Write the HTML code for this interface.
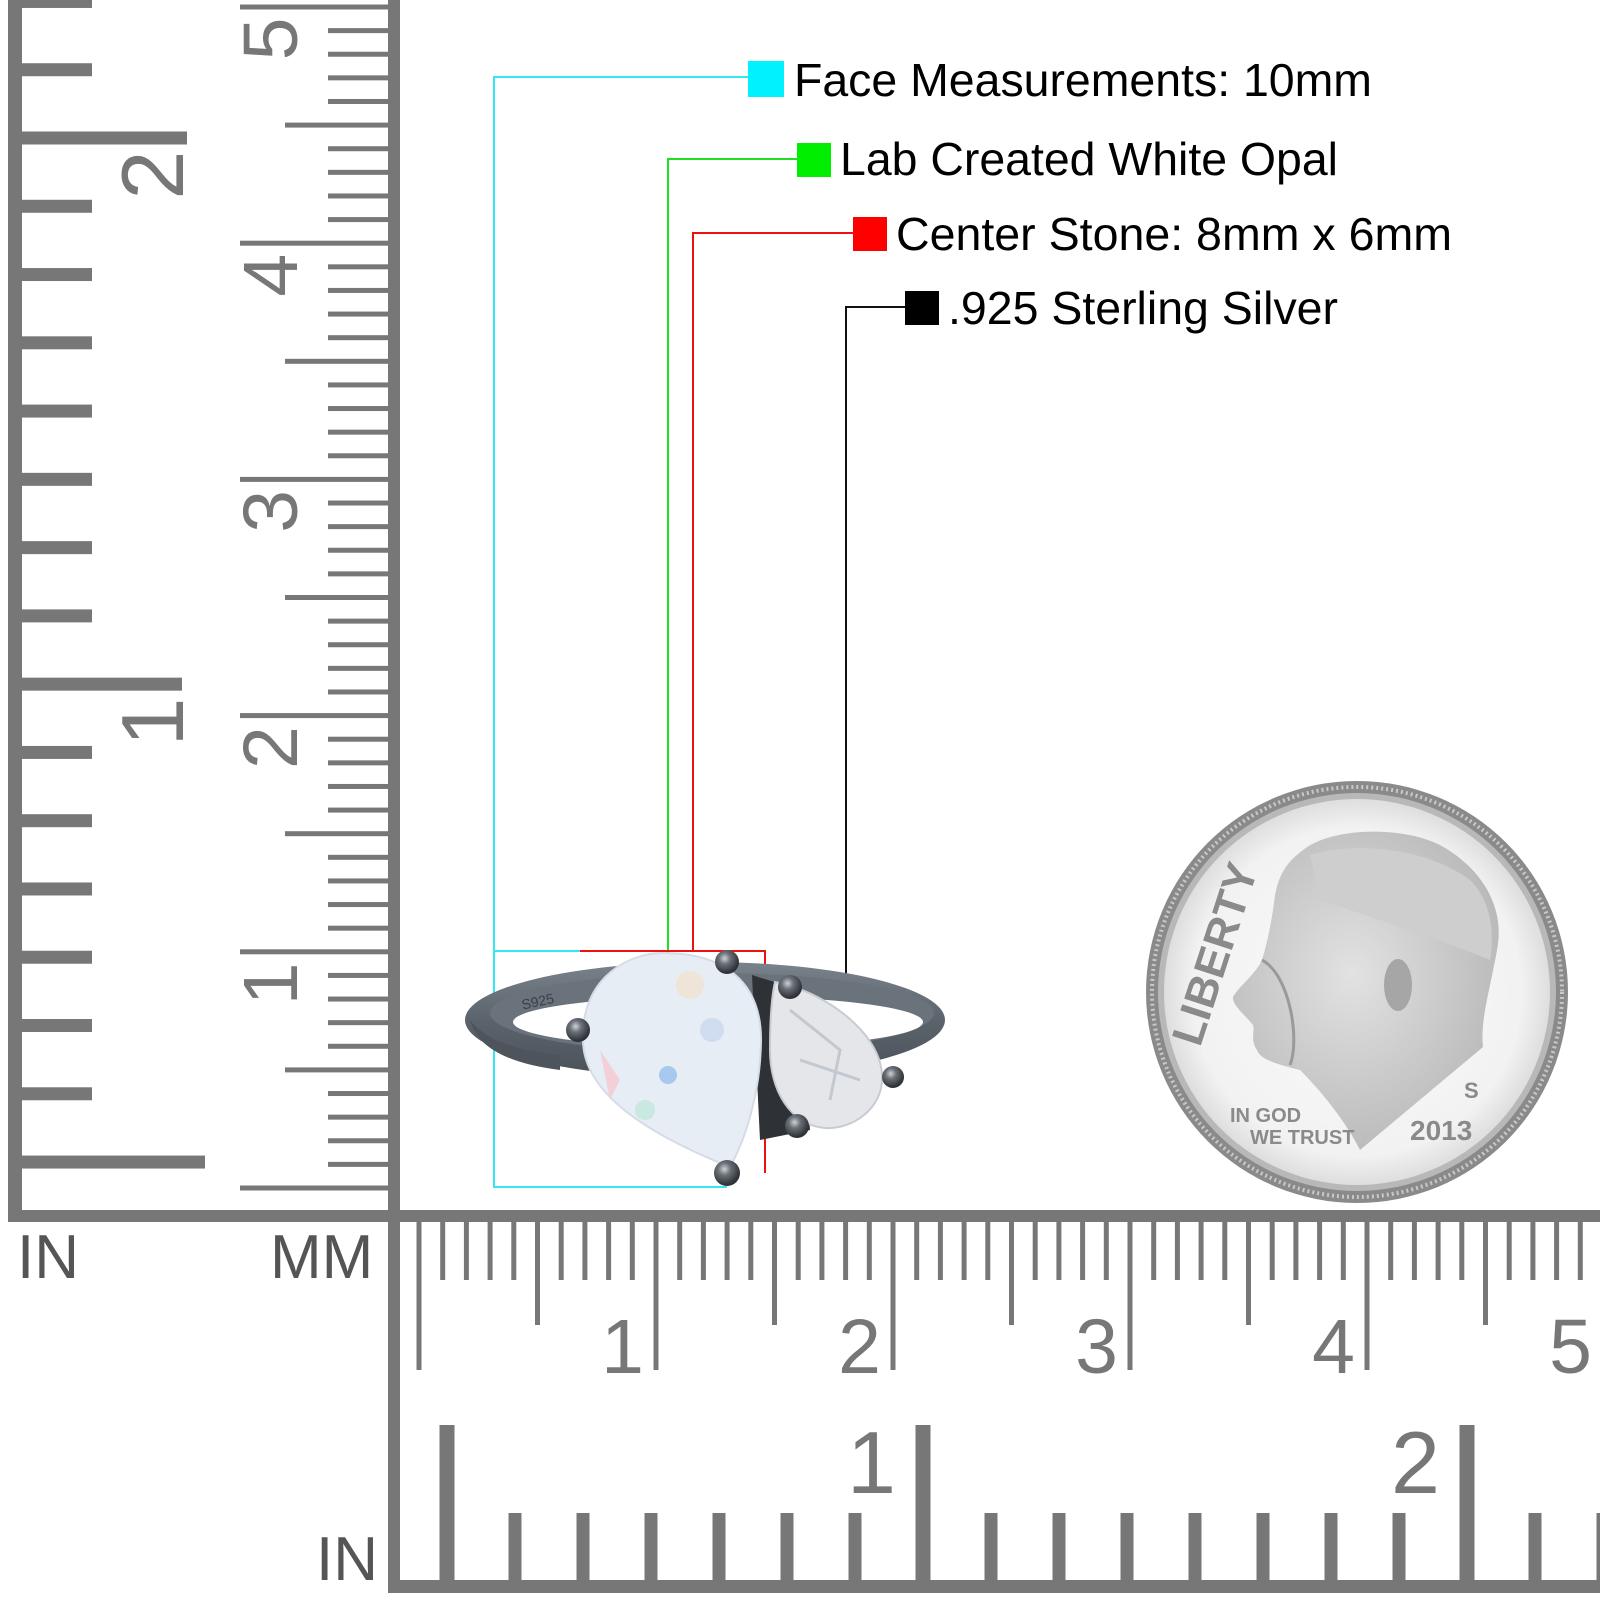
<!DOCTYPE html>
<html><head><meta charset="utf-8"><style>
html,body{margin:0;padding:0;background:#fff;}
svg{display:block;}
.t{font-family:"Liberation Sans",Arial,sans-serif;}
</style></head><body>
<svg id="s" width="1600" height="1600" viewBox="0 0 1600 1600" xmlns="http://www.w3.org/2000/svg">
<defs>
<radialGradient id="coin" cx="0.5" cy="0.5" r="0.5">
<stop offset="0" stop-color="#fafafa"/><stop offset="0.85" stop-color="#f2f2f2"/><stop offset="1" stop-color="#dedede"/>
</radialGradient>
<linearGradient id="band" x1="0" y1="0" x2="0" y2="1">
<stop offset="0" stop-color="#7a828b"/><stop offset="0.5" stop-color="#5b636c"/><stop offset="1" stop-color="#4a5159"/>
</linearGradient>
<radialGradient id="prong" cx="0.4" cy="0.35" r="0.6">
<stop offset="0" stop-color="#cfd3d8"/><stop offset="0.4" stop-color="#6b7178"/><stop offset="1" stop-color="#2f3338"/>
</radialGradient>
<radialGradient id="head" cx="0.45" cy="0.45" r="0.6">
<stop offset="0" stop-color="#e2e2e2"/><stop offset="1" stop-color="#b8b8b8"/>
</radialGradient>
</defs>
<g id="rul" fill="#777"></g>

<g fill="#777">
<rect x="8" y="0" width="14" height="1222"/>
<rect x="388" y="0" width="12" height="1593"/>
<rect x="8" y="1210" width="1592" height="12"/>
<rect x="388" y="1580" width="1212" height="13"/>
</g>

<g class="t" fill="#555" font-size="62">
<text x="17" y="1278">IN</text>
<text x="270" y="1278">MM</text>
<text x="316" y="1580">IN</text>
</g>
<g class="t" fill="#777" font-size="88">
<text transform="translate(183,175) rotate(-90)" text-anchor="middle">2</text>
<text transform="translate(183,722) rotate(-90)" text-anchor="middle">1</text>
<text x="896" y="1493" text-anchor="end">1</text>
<text x="1440" y="1493" text-anchor="end">2</text>
</g>
<g class="t" fill="#777" font-size="77" id="mmlab"></g>

<g fill="none" stroke-width="2">
<polyline points="748,77 494,77 494,1187 727,1187" stroke="#33e8ee"/>
<line x1="494" y1="951" x2="580" y2="951" stroke="#33e8ee"/>
<polyline points="797,159 668,159 668,987" stroke="#22dd22"/>
<polyline points="853,233 693,233 693,951" stroke="#ee1111"/>
<polyline points="580,951 765,951 765,1173" stroke="#ee1111"/>
<polyline points="905,307 846,307 846,990" stroke="#111"/>
</g>
<rect x="748" y="61" width="36" height="36" fill="#00f2ff"/>
<rect x="797" y="143" width="34" height="34" fill="#00ee00"/>
<rect x="853" y="217" width="34" height="34" fill="#ff0000"/>
<rect x="905" y="291" width="34" height="34" fill="#000"/>
<g class="t" fill="#000" font-size="46">
<text x="794" y="96" textLength="578" lengthAdjust="spacingAndGlyphs">Face Measurements: 10mm</text>
<text x="840" y="175" textLength="498" lengthAdjust="spacingAndGlyphs">Lab Created White Opal</text>
<text x="896" y="250" textLength="556" lengthAdjust="spacingAndGlyphs">Center Stone: 8mm x 6mm</text>
<text x="948" y="324" textLength="390" lengthAdjust="spacingAndGlyphs">.925 Sterling Silver</text>
</g>

<g>
<ellipse cx="705" cy="1020" rx="240" ry="58" fill="url(#band)"/>
<ellipse cx="712" cy="1013" rx="222" ry="40" fill="#6a727b"/>
<ellipse cx="718" cy="1022" rx="205" ry="26" fill="#fff"/>
<path d="M470,1020 Q480,1060 560,1070 L560,1055 Q490,1048 470,1020Z" fill="#4d545c"/>
<text x="522" y="1008" font-size="14" fill="#3a4048" transform="rotate(-12 530 1005)" class="t">S925</text>
<path d="M752,975 L800,990 L810,1130 L760,1140 Z" fill="#2e3236"/>
<path d="M775,982 C820,990 880,1030 882,1075 C884,1110 850,1130 825,1128 C790,1125 770,1090 770,1050 C770,1020 772,995 775,982Z" fill="#e4e6ea" stroke="#c8ccd2" stroke-width="2"/>
<path d="M790,1010 L840,1050 L830,1100 M800,1060 L860,1080" stroke="#c2c8d0" stroke-width="3" fill="none"/>
<path d="M730,1167 C650,1135 585,1095 583,1042 C580,985 620,955 660,953 C722,952 762,980 761,1042 C760,1095 745,1140 730,1167Z" fill="#e6edf5" stroke="#d5dce6" stroke-width="2"/>
<circle cx="690" cy="985" r="14" fill="#efe4d8"/>
<circle cx="668" cy="1075" r="9" fill="#a9c8ee"/>
<circle cx="712" cy="1030" r="12" fill="#d0dcf0"/>
<path d="M600,1050 L620,1080 L610,1100Z" fill="#f3cfd8"/>
<circle cx="645" cy="1110" r="10" fill="#c8e8e0"/>
<g fill="url(#prong)">
<circle cx="727" cy="962" r="12"/>
<circle cx="578" cy="1030" r="12"/>
<circle cx="727" cy="1173" r="13"/>
<circle cx="790" cy="987" r="12"/>
<circle cx="893" cy="1077" r="11"/>
<circle cx="797" cy="1126" r="12"/>
</g>
</g>

<g>
<circle cx="1357" cy="992" r="211" fill="#8a8a8a"/>
<circle cx="1357" cy="992" r="205" fill="none" stroke="#c8c8c8" stroke-width="4" stroke-dasharray="2 3"/>
<circle cx="1357" cy="992" r="199" fill="#b8b8b8"/>
<circle cx="1357" cy="992" r="193" fill="url(#coin)"/>
<path d="M1303,850 C1330,828 1400,825 1440,845 C1485,870 1505,910 1497,950 C1490,990 1480,1020 1483,1047 L1360,1150 C1345,1120 1320,1090 1300,1070 C1280,1065 1260,1060 1257,1050 C1250,1040 1255,1032 1253,1025 C1245,1015 1232,1005 1233,997 C1240,985 1255,975 1262,960 C1268,940 1272,920 1275,895 C1280,870 1290,860 1303,850Z" fill="url(#head)"/>
<path d="M1310,855 C1360,840 1430,850 1470,880 C1490,900 1495,930 1490,960 C1440,940 1380,920 1320,900Z" fill="#cecece"/>
<path d="M1262,960 C1290,975 1300,1040 1290,1065" stroke="#9a9a9a" stroke-width="3" fill="none"/>
<ellipse cx="1398" cy="985" rx="14" ry="26" fill="#a6a6a6"/>
<g class="t" fill="#8a8a8a" font-weight="bold">
<text font-size="44" transform="translate(1200,1048) rotate(-72)">LIBERTY</text>
<text x="1230" y="1122" font-size="20">IN GOD</text>
<text x="1250" y="1144" font-size="20">WE TRUST</text>
<text x="1410" y="1140" font-size="28">2013</text>
<text x="1464" y="1098" font-size="22">S</text>
</g>
</g>
<script>
(function(){
var ns="http://www.w3.org/2000/svg",g=document.getElementById("rul"),L=document.getElementById("mmlab");
function r(x,y,w,h){var e=document.createElementNS(ns,"rect");e.setAttribute("x",x);e.setAttribute("y",y);e.setAttribute("width",w);e.setAttribute("height",h);g.appendChild(e);}
function t(p,x,y,s,tr,a){var e=document.createElementNS(ns,"text");e.textContent=s;if(tr)e.setAttribute("transform",tr);else{e.setAttribute("x",x);e.setAttribute("y",y);}if(a)e.setAttribute("text-anchor",a);p.appendChild(e);}
for(var k=-2;k<=15;k++){var y=138+68.27*k;var len=70;if(k==0)len=165;if(k==8)len=160;if(k==15)len=183;r(22,y-6.5,len,13);}
for(var n=0;n<=50;n++){var y=1188-23.62*n;var x0=328;if(n%10==0)x0=240;else if(n%5==0)x0=285;r(x0,y-2.5,388-x0,5);
 if(n%10==0&&n>0){t(L,0,0,""+(n/10),"translate(297,"+(y+32)+") rotate(-90)","middle");}}
for(var n=0;n<=50;n++){var x=419+23.7*n;var y1=1280;if(n%10==0)y1=1370;else if(n%5==0)y1=1325;r(x-2.5,1222,5,y1-1222);
 if(n%10==0&&n>0){t(L,x-12,1373,""+(n/10),null,"end");}}
for(var k=0;k<=17;k++){var x=447+68*k;var tall=(k==0||k==7||k==15);if(tall)r(x-7.5,1425,15,156);else r(x-6.5,1513,13,68);}
})();
</script>
</svg>
</body></html>
